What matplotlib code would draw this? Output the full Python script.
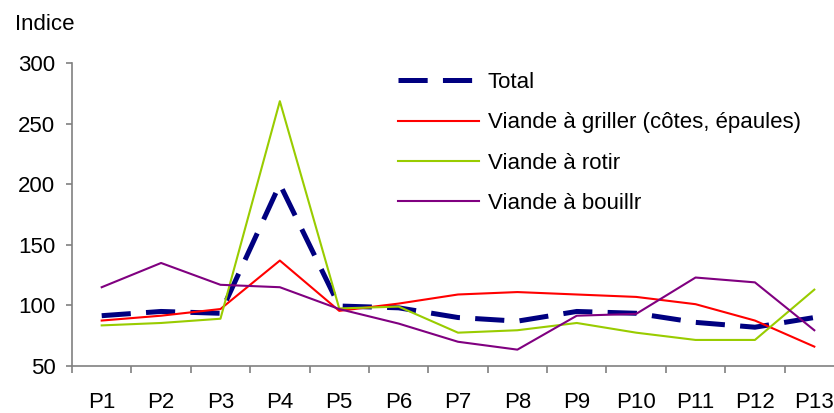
import matplotlib
matplotlib.use("Agg")
import matplotlib.pyplot as plt
import numpy as np

plt.rcParams['font.family'] = ['Liberation Sans', 'DejaVu Sans']
plt.rcParams['lines.scale_dashes'] = False

periods = ["P1", "P2", "P3", "P4", "P5", "P6", "P7", "P8", "P9", "P10", "P11", "P12", "P13"]
total = [91.5, 95, 93.5, 200, 99.5, 98, 90, 87, 95, 93.5, 86, 82, 90]
griller = [87.5, 91.5, 97, 137, 95.5, 101.5, 109, 111, 109, 107, 101, 87.5, 66]
rotir = [83.5, 85.5, 89, 268.5, 97.5, 99, 77.5, 79.5, 85.5, 77.5, 71.5, 71.5, 113]
bouillir = [115, 135, 117, 115, 97, 85, 70, 63.5, 91.5, 93, 123, 119, 79.5]
labels = ["Total", "Viande à griller (côtes, épaules)", "Viande à rotir", "Viande à bouillr"]
yticks = [50, 100, 150, 200, 250, 300]

W, H = 834, 413
fig = plt.figure(figsize=(W / 100, H / 100), dpi=100)
left, right, top, bottom = 72, 844, 63, 366
ax = fig.add_axes([left / W, 1 - bottom / H, (right - left) / W, (bottom - top) / H])

x = np.arange(len(periods))
ax.plot(x, total, color="#000080", lw=3.6, dashes=(21, 11), label=labels[0])
ax.plot(x, griller, color="#FF0000", lw=1.5, label=labels[1])
ax.plot(x, rotir, color="#99CC00", lw=1.5, label=labels[2])
ax.plot(x, bouillir, color="#800080", lw=1.5, label=labels[3])

ax.set_xlim(-0.5, len(periods) - 0.5)
ax.set_ylim(50, 300)
ax.set_yticks(yticks)
ax.set_yticklabels([str(v) for v in yticks])

ax.set_xticks(np.arange(len(periods) + 1) - 0.5)
ax.set_xticklabels([])
ax.set_xticks(x, minor=True)
ax.set_xticklabels(periods, minor=True)

for s in ["top", "right"]:
    ax.spines[s].set_visible(False)
for s in ["left", "bottom"]:
    ax.spines[s].set_color("#808080")
    ax.spines[s].set_linewidth(1.2)

ax.tick_params(axis="y", which="major", direction="out", length=4, width=1.2,
               color="#808080", labelsize=16, pad=8)
ax.tick_params(axis="x", which="major", direction="out", length=5, width=1.2,
               color="#808080")
ax.tick_params(axis="x", which="minor", length=0, labelsize=16, pad=19)

fig.text(15 / W, 1 - 24 / H, "Indice", fontsize=16, va="center", ha="left")

leg = ax.legend(loc="upper left", bbox_to_anchor=(398 / W, 1 - 72 / H),
                bbox_transform=fig.transFigure, frameon=False, fontsize=16,
                handlelength=3.65, handletextpad=0.4, labelspacing=0.87,
                borderpad=0, borderaxespad=0)

fig.savefig("out.png", dpi=100)
